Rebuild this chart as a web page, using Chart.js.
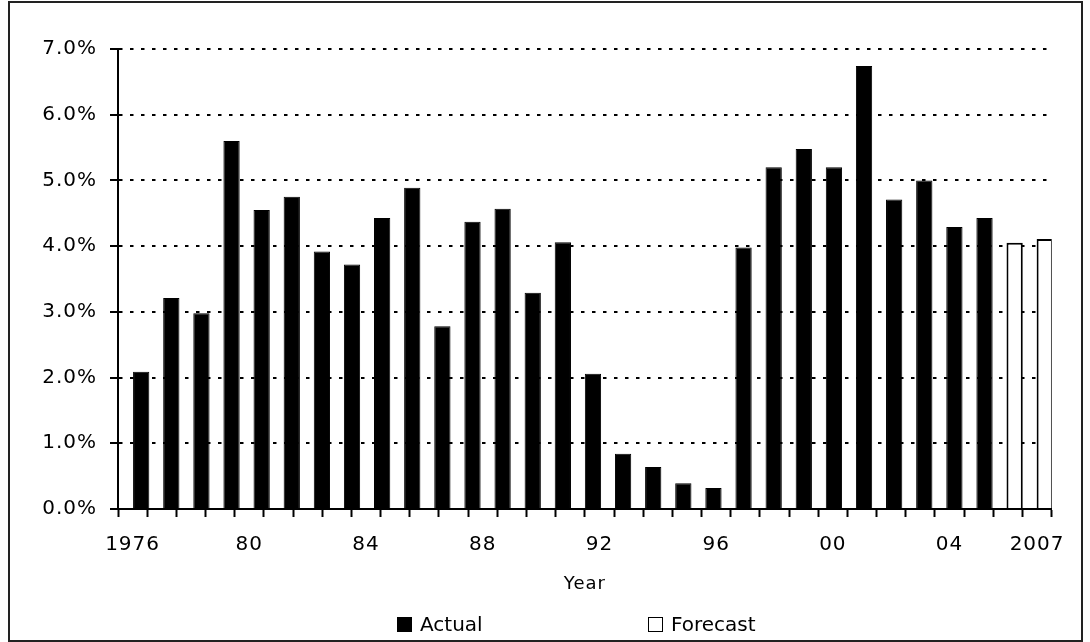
<!DOCTYPE html>
<html>
<head>
<meta charset="utf-8">
<script src="https://cdn.jsdelivr.net/npm/chart.js@4.4.1/dist/chart.umd.min.js"></script>
<style>
    html, body { margin: 0; padding: 0; background: #fff; }
    body { width: 1090px; height: 642px; position: relative; overflow: hidden; font-family: 'DejaVu Sans', sans-serif; }
    #frame { position: absolute; left: 8px; top: 1px; width: 1075px; height: 641px; box-sizing: border-box; border: 2px solid #222; }
    #chart-wrap { position: absolute; left: 0; top: 0; width: 1071px; height: 637px; }
    .legend-item { position: absolute; top: 613px; height: 22px; display: flex; align-items: center; font-size: 20px; color: #000; }
    .legend-box { width: 15px; height: 15px; box-sizing: border-box; margin-right: 8px; }
</style>
</head>
<body>
<div id="frame">
    <div id="chart-wrap"><canvas id="chart-rate"></canvas></div>
</div>
<div class="legend-item" style="left: 397px;"><span class="legend-box" style="background: #000;"></span><span>Actual</span></div>
<div class="legend-item" style="left: 648px;"><span class="legend-box" style="background: #fff; border: 1.5px solid #000;"></span><span>Forecast</span></div>
<script>
// one bar per year, the bar sits just left of its year tick
const years = [1977, 1978, 1979, 1980, 1981, 1982, 1983, 1984, 1985, 1986,
    1987, 1988, 1989, 1990, 1991, 1992, 1993, 1994, 1995, 1996,
    1997, 1998, 1999, 2000, 2001, 2002, 2003, 2004, 2005, 2006, 2007];

// 1977 - 2005
const actualRate = [2.09, 3.21, 2.98, 5.60, 4.55, 4.75, 3.92, 3.72, 4.43, 4.89,
    2.78, 4.37, 4.57, 3.29, 4.06, 2.06, 0.84, 0.64, 0.39, 0.32,
    3.98, 5.20, 5.48, 5.20, 6.74, 4.71, 5.00, 4.29, 4.43];

// 2006 - 2007
const forecastRate = [4.05, 4.11];

const labelYears = [1976, 1980, 1984, 1988, 1992, 1996, 2000, 2004, 2007];
const labelTexts = ['1976', '80', '84', '88', '92', '96', '00', '04', '2007'];

const actualData = years.map((y, i) => i < actualRate.length ? actualRate[i] : null);
const forecastData = years.map((y, i) => i >= actualRate.length ? forecastRate[i - actualRate.length] : null);

Chart.defaults.font.family = "'DejaVu Sans', sans-serif";
Chart.defaults.color = '#000';

// the reference text is set a bit loose
const spacing = {
    id: 'spacing',
    beforeUpdate(chart) { chart.ctx.letterSpacing = '1px'; },
    beforeDraw(chart) { chart.ctx.letterSpacing = '1px'; }
};

var options = {
    type: 'bar',
    data: {
        labels: years,
        datasets: [{
            // empty left half of each slot
            label: 'spacer',
            data: years.map(() => null),
            stack: 's'
        },
        {
            label: 'Actual',
            data: actualData,
            backgroundColor: '#000',
            borderColor: '#000',
            borderWidth: 1,
            stack: 'v'
        },
        {
            label: 'Forecast',
            data: forecastData,
            backgroundColor: '#fff',
            borderColor: '#000',
            borderWidth: 2,
            stack: 'v'
        }]
    },
    options: {
        maintainAspectRatio: false,
        responsive: true,
        animation: false,
        barPercentage: 1.0,
        categoryPercentage: 1.08,
        layout: { padding: { top: 46, right: 28, left: 0, bottom: 0 } },
        plugins: {
            legend: { display: false },
            tooltip: { enabled: false }
        },
        events: [],
        scales: {
            x: {
                display: false
            },
            x2: {
                type: 'linear',
                position: 'bottom',
                min: 1976,
                max: 2007,
                weight: 1,
                border: { display: true, color: '#000', width: 2 },
                grid: {
                    drawOnChartArea: false,
                    drawTicks: true,
                    tickLength: 8,
                    tickWidth: 2,
                    tickColor: '#000'
                },
                ticks: {
                    stepSize: 1,
                    maxTicksLimit: 40,
                    autoSkip: false,
                    maxRotation: 0,
                    padding: 16,
                    font: { size: 20 },
                    callback: (v) => {
                        const i = labelYears.indexOf(v);
                        return i === -1 ? '' : labelTexts[i];
                    }
                },
                title: {
                    display: true,
                    text: 'Year',
                    font: { size: 18 },
                    padding: { top: 0, bottom: 45 }
                },
                afterFit: (scale) => { scale.height = 131; }
            },
            y: {
                min: 0,
                max: 7,
                border: { display: true, color: '#000', width: 2, dash: [3.5, 7.5] },
                grid: {
                    color: '#000',
                    lineWidth: 2,
                    tickLength: 8,
                    tickWidth: 2,
                    tickColor: '#000'
                },
                ticks: {
                    stepSize: 1,
                    padding: 13,
                    font: { size: 20 },
                    callback: (v) => v.toFixed(1) + '%'
                },
                afterFit: (scale) => { scale.width = 108; }
            }
        }
    },
    plugins: [spacing]
};

var ctx = document.getElementById('chart-rate').getContext('2d');
const rateChart = new Chart(ctx, options);
</script>
</body>
</html>
